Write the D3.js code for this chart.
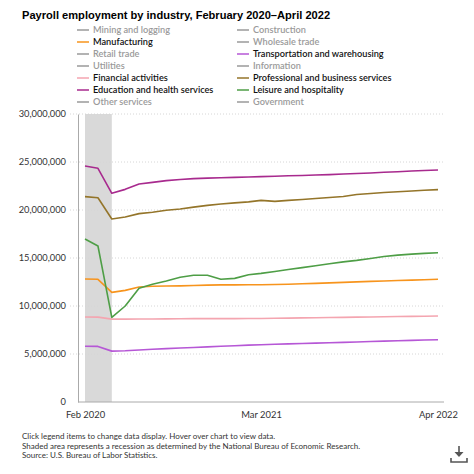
<!DOCTYPE html>
<html><head><meta charset="utf-8">
<script src="https://cdn.jsdelivr.net/npm/d3@7"></script>
<style>
html,body{margin:0;padding:0;background:#fff;}
svg{display:block;}
</style></head>
<body>
<svg id="c" width="474" height="474"></svg>
<script>
// ---- data ----
const months = ["2020-02","2020-03","2020-04","2020-05","2020-06","2020-07","2020-08","2020-09","2020-10","2020-11","2020-12",
"2021-01","2021-02","2021-03","2021-04","2021-05","2021-06","2021-07","2021-08","2021-09","2021-10","2021-11","2021-12",
"2022-01","2022-02","2022-03","2022-04"];
const legendItems = ["Mining and logging","Construction","Manufacturing","Wholesale trade","Retail trade",
"Transportation and warehousing","Utilities","Information","Financial activities","Professional and business services",
"Education and health services","Leisure and hospitality","Other services","Government"];
// values in millions of jobs
const manufacturing = [12.81,12.78,11.42,11.63,11.98,12.05,12.08,12.10,12.14,12.17,12.20,12.20,12.21,12.22,12.24,12.27,12.31,12.36,12.41,12.46,12.51,12.56,12.61,12.65,12.70,12.74,12.78];
const transportation = [5.80,5.79,5.30,5.34,5.42,5.50,5.56,5.62,5.68,5.74,5.80,5.86,5.92,5.97,6.01,6.05,6.09,6.13,6.17,6.21,6.25,6.30,6.34,6.38,6.42,6.46,6.49];
const financial = [8.85,8.84,8.63,8.63,8.64,8.65,8.66,8.67,8.68,8.68,8.69,8.69,8.70,8.70,8.72,8.74,8.76,8.78,8.80,8.82,8.84,8.86,8.88,8.90,8.92,8.94,8.96];
const professional = [21.39,21.28,19.06,19.27,19.62,19.76,19.97,20.10,20.30,20.48,20.62,20.74,20.85,21.00,20.90,21.00,21.10,21.20,21.30,21.40,21.62,21.72,21.82,21.90,21.98,22.06,22.12];
const education = [24.58,24.34,21.74,22.15,22.71,22.88,23.06,23.18,23.27,23.32,23.36,23.40,23.44,23.48,23.52,23.56,23.60,23.64,23.69,23.75,23.80,23.86,23.93,23.99,24.06,24.12,24.17];
const leisure = [16.98,16.25,8.82,10.00,11.84,12.26,12.60,12.99,13.20,13.20,12.78,12.88,13.26,13.40,13.60,13.80,14.00,14.20,14.40,14.60,14.75,14.95,15.15,15.30,15.40,15.48,15.55];
const yTicks = [0,5000000,10000000,15000000,20000000,25000000,30000000];
const xTickMonths = ["2020-02","2021-03","2022-04"];
const recession = ["2020-02","2020-04"];
const title = "Payroll employment by industry, February 2020–April 2022";
const notes = ["Click legend items to change data display. Hover over chart to view data.",
"Shaded area represents a recession as determined by the National Bureau of Economic Research.",
"Source: U.S. Bureau of Labor Statistics."];

const activeSeries = {
  "Manufacturing": {values: manufacturing, color: "#f7941d"},
  "Transportation and warehousing": {values: transportation, color: "#b657d6"},
  "Financial activities": {values: financial, color: "#f4a5b0"},
  "Professional and business services": {values: professional, color: "#94752a"},
  "Education and health services": {values: education, color: "#a82a8e"},
  "Leisure and hospitality": {values: leisure, color: "#4e9e46"}
};

// ---- chart ----
const FONT = "Lato, 'Open Sans', sans-serif";
const svg = d3.select("#c");
const parse = d3.timeParse("%Y-%m");
const dates = months.map(parse);
const x = d3.scaleTime().domain([dates[0], dates[dates.length-1]]).range([85, 438]);
const y = d3.scaleLinear().domain([0, 30000000]).range([402, 114]);

svg.append("text").attr("x", 22).attr("y", 19)
  .attr("font-family", "'Liberation Sans', Arial, sans-serif").attr("font-weight", "bold")
  .attr("font-size", 11.1).attr("fill", "#000").text(title);

// legend
const lg = svg.append("g");
legendItems.forEach((name, i) => {
  const col = i % 2, row = Math.floor(i / 2);
  const lx = col === 0 ? 77 : 237;
  const ly = 30 + row * 12;
  const act = activeSeries[name];
  lg.append("line").attr("x1", lx).attr("x2", lx + 12).attr("y1", ly).attr("y2", ly)
    .attr("stroke", act ? act.color : "#9a9a9a").attr("stroke-width", 1.5);
  lg.append("text").attr("x", lx + 16).attr("y", ly).attr("dy", "0.35em")
    .attr("font-family", FONT).attr("font-size", 9.2)
    .attr("font-weight", 600)
    .attr("fill", act ? "#111" : "#9a9a9a").text(name);
});

// recession shading
svg.append("rect").attr("x", x(parse(recession[0]))).attr("y", y(30000000))
  .attr("width", x(parse(recession[1])) - x(parse(recession[0])))
  .attr("height", y(0) - y(30000000)).attr("fill", "#d9d9d9");

// grid
svg.append("g").selectAll("line").data(yTicks.filter(d => d > 0)).join("line")
  .attr("x1", 70).attr("x2", 444).attr("y1", d => y(d)).attr("y2", d => y(d))
  .attr("stroke", "#d6d6d6").attr("stroke-width", 1).attr("stroke-dasharray", "1,2");

// y axis
const yAxis = d3.axisLeft(y).tickValues(yTicks).tickFormat(d3.format(",")).tickSize(0).tickPadding(12);
const yg = svg.append("g").attr("transform", "translate(78,0)").call(yAxis);
yg.select(".domain").attr("stroke", "#aaa");
yg.selectAll("text").attr("font-family", FONT).attr("font-size", 9.3).attr("fill", "#333");

// x axis
const xAxis = d3.axisBottom(x).tickValues(xTickMonths.map(parse)).tickFormat(d3.timeFormat("%b %Y")).tickSize(0).tickPadding(9);
const xg = svg.append("g").attr("transform", "translate(0,402)").call(xAxis);
xg.select(".domain").remove();
xg.append("line").attr("x1", 78).attr("x2", 444).attr("y1", 0).attr("y2", 0).attr("stroke", "#aaa");
xg.selectAll("text").attr("font-family", FONT).attr("font-size", 9.4).attr("fill", "#333");

// lines
const line = d3.line().x((d, i) => x(dates[i])).y(d => y(d * 1e6));
Object.keys(activeSeries).forEach(name => {
  const s = activeSeries[name];
  svg.append("path").datum(s.values).attr("d", line).attr("fill", "none")
    .attr("stroke", s.color).attr("stroke-width", 1.6).attr("stroke-linejoin", "round");
});

// notes
notes.forEach((t, i) => {
  svg.append("text").attr("x", 22).attr("y", 439 + i * 9.6).attr("font-family", FONT)
    .attr("font-size", 8).attr("fill", "#333").text(t);
});

// download icon
const ic = svg.append("g").attr("fill", "none").attr("stroke", "#555").attr("stroke-width", 1.6);
ic.append("line").attr("x1", 459).attr("x2", 459).attr("y1", 446).attr("y2", 453);
svg.append("path").attr("d", "M454.5,452 L463.5,452 L459,457 Z").attr("fill", "#555");
ic.append("path").attr("d", "M451,458 L451,462 L467,462 L467,458");
</script>
</body></html>
